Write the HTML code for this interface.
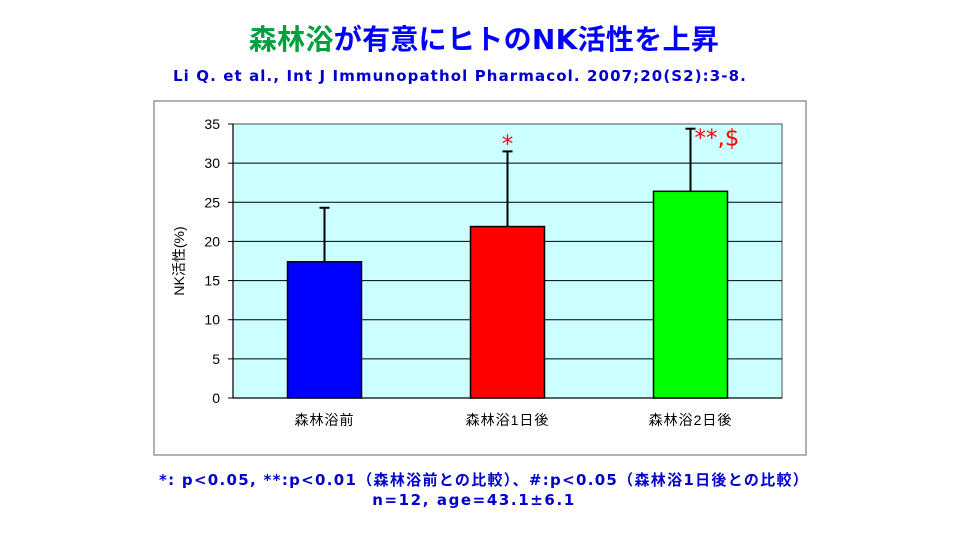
<!DOCTYPE html>
<html><head><meta charset="utf-8">
<style>
body{margin:0;width:960px;height:540px;background:#fff;overflow:hidden;position:relative;font-family:"Liberation Sans","Noto Sans CJK JP",sans-serif;}
.t{position:absolute;left:0;width:960px;text-align:center;font-weight:bold;}
</style></head><body>
<div class="t" style="top:18px;font-size:28px;color:#0000ff;left:4px;font-family:'DejaVu Sans','Noto Sans CJK JP',sans-serif;letter-spacing:0.3px"><span style="color:#00a040">森林浴</span>が有意にヒトのNK活性を上昇</div>
<div class="t" style="top:67px;font-size:15px;color:#0000cc;left:-20px;font-family:'DejaVu Sans',sans-serif;letter-spacing:1.1px;">Li Q. et al., Int J Immunopathol Pharmacol. 2007;20(S2):3-8.</div>
<svg id="c" width="960" height="540" style="position:absolute;left:0;top:0" xmlns="http://www.w3.org/2000/svg"></svg>
<div class="t" style="top:469px;font-size:15px;color:#0000cc;left:4px;font-family:'DejaVu Sans','Noto Sans CJK JP',sans-serif;letter-spacing:1.3px;">*: p&lt;0.05, **:p&lt;0.01（森林浴前との比較）、#:p&lt;0.05（森林浴1日後との比較）</div>
<div class="t" style="top:491px;font-size:15px;color:#0000cc;left:-6px;font-family:'DejaVu Sans',sans-serif;letter-spacing:1.6px;">n=12, age=43.1±6.1</div>
<script>
const categories=["森林浴前","森林浴1日後","森林浴2日後"];
const values=[17.4,21.9,26.4];
const errors=[6.9,9.6,8.0];
const marks=["","*","**,$"];
const colors=["#0000ff","#ff0000","#00ff00"];
const ticks=[0,5,10,15,20,25,30,35];
const NS="http://www.w3.org/2000/svg";
const svg=document.getElementById('c');
const X0=233,X1=782,Y0=398,Y1=124,YMAX=35;
const y=v=>Y0-(v/YMAX)*(Y0-Y1);
const bw=(X1-X0)/categories.length;
const xc=i=>X0+bw*(i+0.5);
function mk(t,a){const e=document.createElementNS(NS,t);for(const k in a)e.setAttribute(k,a[k]);svg.appendChild(e);return e;}
let e;
e=mk('rect',{x:154,y:101,width:652,height:354,fill:'#fff',stroke:'#999','stroke-width':1.5});

e=mk('rect',{x:X0,y:Y1,width:X1-X0,height:Y0-Y1,fill:'#ccffff',stroke:'#888','stroke-width':1.5});

ticks.forEach(t=>{
 if(t>0&&t<YMAX){e=mk('line',{x1:X0,x2:X1,y1:y(t),y2:y(t),stroke:'#000','stroke-width':1});
 }
 e=mk('line',{x1:X0-5,x2:X0,y1:y(t),y2:y(t),stroke:'#000'});
 
 e=mk('text',{x:X0-13,y:y(t)+5,'text-anchor':'end','font-size':14,fill:'#000'});e.textContent=t;
 
});
e=mk('line',{x1:X0,x2:X0,y1:Y1,y2:Y0,stroke:'#000'});

e=mk('line',{x1:X0,x2:X1,y1:Y0,y2:Y0,stroke:'#000'});

e=mk('text',{x:0,y:0,transform:`translate(184,${(Y0+Y1)/2}) rotate(-90)`,'text-anchor':'middle','font-size':14,fill:'#000'});e.textContent='NK活性(%)';

categories.forEach((c,i)=>{
 const w=74,cx=xc(i);
 e=mk('line',{x1:cx,x2:cx,y1:y(values[i]),y2:y(values[i]+errors[i]),stroke:'#000','stroke-width':2});
 
 e=mk('line',{x1:cx-5,x2:cx+5,y1:y(values[i]+errors[i]),y2:y(values[i]+errors[i]),stroke:'#000','stroke-width':2});
 
 e=mk('rect',{x:cx-w/2,y:y(values[i]),width:w,height:Y0-y(values[i]),fill:colors[i],stroke:'#000','stroke-width':1.5});
 
 e=mk('text',{x:cx,y:Y0+27,'text-anchor':'middle','font-size':14,fill:'#000','letter-spacing':1});e.textContent=c;
 
 if(marks[i]){
  e=mk('text',{x:i==1?cx:cx+4,y:y(values[i]+errors[i])+(i==1?0:17),'text-anchor':i==1?'middle':'start','font-size':23,fill:'#ff0000','font-family':'DejaVu Sans,sans-serif'});e.textContent=marks[i];
  
 }
});
</script>
</body></html>
